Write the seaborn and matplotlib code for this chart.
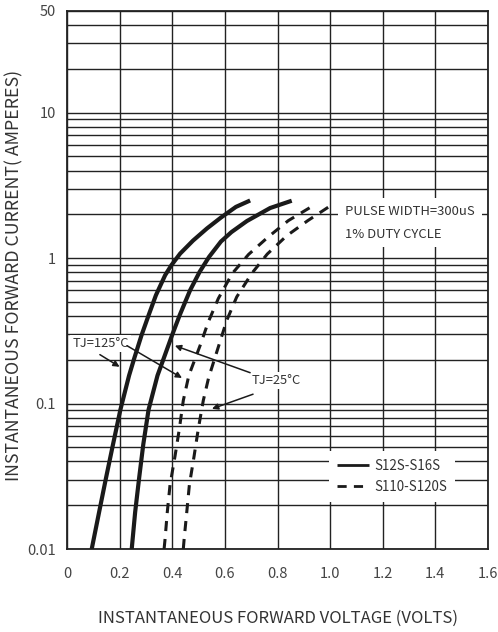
import numpy as np
import pandas as pd
import matplotlib
matplotlib.use("Agg")
import matplotlib.pyplot as plt
from matplotlib.ticker import LogLocator, NullFormatter, FixedLocator, FixedFormatter
import seaborn as sns

# ---- data ----
# S12S-S16S, Tj=125C (solid)
v_s125 = [0.094, 0.122, 0.148, 0.175, 0.203, 0.236, 0.255, 0.283, 0.310, 0.338,
          0.373, 0.397, 0.430, 0.479, 0.532, 0.585, 0.642, 0.696]
i_s125 = [0.010, 0.0179, 0.0306, 0.0525, 0.0908, 0.156, 0.203, 0.294, 0.404, 0.556,
          0.763, 0.895, 1.074, 1.32, 1.60, 1.90, 2.25, 2.49]
# S12S-S16S, Tj=25C (solid)
v_s25 = [0.246, 0.259, 0.274, 0.290, 0.310, 0.344, 0.367, 0.399, 0.428, 0.468,
         0.504, 0.540, 0.585, 0.625, 0.684, 0.772, 0.854]
i_s25 = [0.010, 0.0179, 0.0306, 0.0525, 0.0908, 0.156, 0.203, 0.294, 0.404, 0.602,
         0.804, 1.02, 1.30, 1.51, 1.80, 2.21, 2.48]
# S110-S120S, Tj=125C (dashed)
v_d125 = [0.369, 0.3725, 0.381, 0.3915, 0.4105, 0.427, 0.442, 0.463, 0.506, 0.537,
          0.575, 0.628, 0.690, 0.765, 0.841, 0.926, 0.946]
i_d125 = [0.010, 0.0116, 0.0178, 0.0275, 0.0435, 0.067, 0.105, 0.156, 0.251, 0.364,
          0.527, 0.784, 1.06, 1.40, 1.81, 2.24, 2.32]
# S110-S120S, Tj=25C (dashed)
v_d25 = [0.442, 0.445, 0.455, 0.465, 0.483, 0.499, 0.518, 0.538, 0.577, 0.607,
         0.645, 0.702, 0.761, 0.835, 0.915, 0.993, 1.015]
i_d25 = [0.010, 0.0116, 0.0178, 0.0275, 0.0435, 0.067, 0.105, 0.150, 0.251, 0.373,
         0.541, 0.784, 1.066, 1.425, 1.81, 2.24, 2.32]

series_labels = ["S12S-S16S", "S110-S120S"]
x_ticks = [0, 0.2, 0.4, 0.6, 0.8, 1.0, 1.2, 1.4, 1.6]
x_tick_labels = ["0", "0.2", "0.4", "0.6", "0.8", "1.0", "1.2", "1.4", "1.6"]
y_ticks = [0.01, 0.1, 1, 10, 50]
y_tick_labels = ["0.01", "0.1", "1", "10", "50"]

sns.set_style("white")
plt.rcParams["font.family"] = ["Noto Sans CJK SC", "DejaVu Sans"]

fig = plt.figure(figsize=(4.98, 6.32), dpi=100)
ax = fig.add_axes([0.1345, 0.1313, 0.8455, 0.8513])

ink = "#1a1a1a"
dash = (0, (3.3, 2.6))
curves = [
    (v_s125, i_s125, "-", 3.0, series_labels[0]),
    (v_s25, i_s25, "-", 3.0, "_nolegend_"),
    (v_d125, i_d125, dash, 2.2, series_labels[1]),
    (v_d25, i_d25, dash, 2.2, "_nolegend_"),
]
for v, i, ls, lw, lab in curves:
    df = pd.DataFrame({"V": v, "I": i})
    sns.lineplot(data=df, x="V", y="I", ax=ax, color=ink, linewidth=lw,
                 linestyle=ls, label=lab, legend=False, zorder=4,
                 solid_capstyle="butt", dash_capstyle="butt")

ax.set_yscale("log")
ax.set_xlim(0, 1.6)
ax.set_ylim(0.01, 50)

ax.xaxis.set_major_locator(FixedLocator(x_ticks))
ax.xaxis.set_major_formatter(FixedFormatter(x_tick_labels))
ax.yaxis.set_major_locator(FixedLocator(y_ticks))
ax.yaxis.set_major_formatter(FixedFormatter(y_tick_labels))
ax.yaxis.set_minor_locator(LogLocator(base=10, subs=np.arange(2, 10)))
ax.yaxis.set_minor_formatter(NullFormatter())

ax.grid(True, which="major", axis="x", color="#222222", linewidth=1.0)
ax.grid(True, which="both", axis="y", color="#222222", linewidth=1.0)
ax.tick_params(axis="both", which="both", length=0)
ax.tick_params(axis="x", pad=13, labelsize=10.5, labelcolor="#444444")
ax.tick_params(axis="y", pad=8, labelsize=10.5, labelcolor="#444444")
for s in ax.spines.values():
    s.set_visible(True)
    s.set_color("#222222")
    s.set_linewidth(1.3)

ax.set_xlabel("INSTANTANEOUS FORWARD VOLTAGE (VOLTS)", fontsize=12,
              color="#333333")
ax.set_ylabel("INSTANTANEOUS FORWARD CURRENT( AMPERES)", fontsize=12.8,
              color="#333333")
ax.xaxis.set_label_coords(0.5, -0.113)
ax.yaxis.set_label_coords(-0.104, 0.509)

box = dict(facecolor="white", edgecolor="none", pad=1.5)
ax.text(0.02, 0.26, "TJ=125°C", fontsize=9.3, color="#333333",
        ha="left", va="center", bbox=box, zorder=5)
ax.text(0.703, 0.145, "TJ=25°C", fontsize=9.3, color="#333333",
        ha="left", va="center", bbox=box, zorder=5)
ax.text(1.057, 1.75, "PULSE WIDTH=300uS\n1% DUTY CYCLE", fontsize=9.4,
        color="#333333", ha="left", va="center", linespacing=1.95,
        bbox=dict(facecolor="white", edgecolor="none", pad=5), zorder=5)

arrow = dict(arrowstyle="-|>", color=ink, lw=1.1, mutation_scale=9,
             shrinkA=0, shrinkB=0)
ax.annotate("", xy=(0.20, 0.179), xytext=(0.125, 0.217), arrowprops=arrow, zorder=6)
ax.annotate("", xy=(0.437, 0.15), xytext=(0.228, 0.25), arrowprops=arrow, zorder=6)
ax.annotate("", xy=(0.41, 0.25), xytext=(0.696, 0.163), arrowprops=arrow, zorder=6)
ax.annotate("", xy=(0.551, 0.092), xytext=(0.707, 0.116), arrowprops=arrow, zorder=6)

leg = ax.legend(loc="upper left", bbox_to_anchor=(0.606, 0.195), fontsize=9.6,
                frameon=True, fancybox=False, framealpha=1, edgecolor="none",
                facecolor="white", handlelength=2.4, handletextpad=0.4,
                labelspacing=0.55, borderpad=0.6)
for t in leg.get_texts():
    t.set_color("#333333")
for h in leg.get_lines():
    h.set_linewidth(2.0)
leg.set_zorder(7)

fig.savefig("out.png", dpi=100)
